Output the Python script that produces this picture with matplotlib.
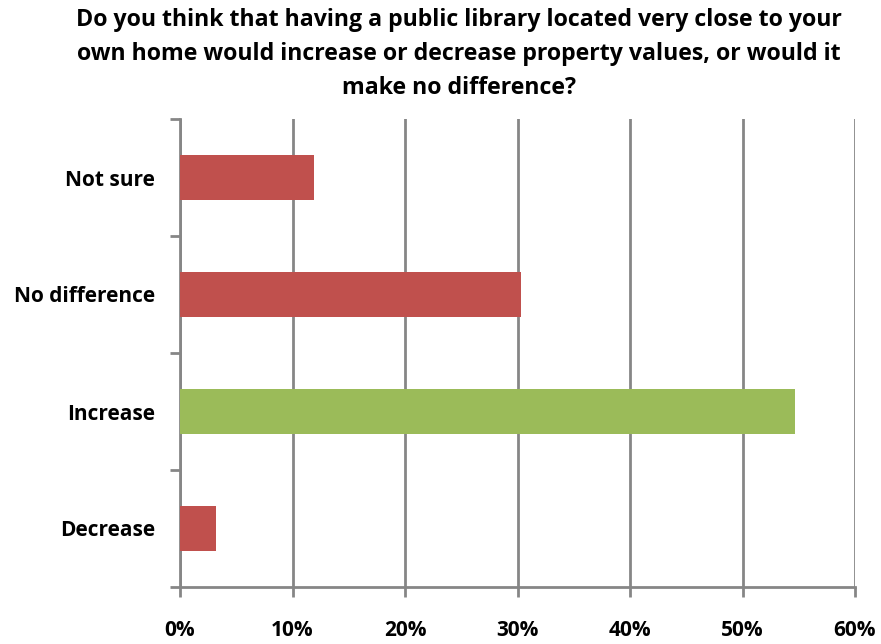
import matplotlib
matplotlib.use("Agg")
import matplotlib.pyplot as plt
from matplotlib.ticker import FuncFormatter, MultipleLocator

categories = ["Decrease", "Increase", "No difference", "Not sure"]
values = [3.2, 54.7, 30.3, 11.9]
bar_colors = ["#C0504D", "#9BBB59", "#C0504D", "#C0504D"]
x_ticks = [0, 10, 20, 30, 40, 50, 60]
title = ("Do you think that having a public library located very close to your\n"
         "own home would increase or decrease property values, or would it\n"
         "make no difference?")

plt.rcParams["font.family"] = ["Open Sans", "DejaVu Sans"]
plt.rcParams["font.weight"] = "bold"

fig = plt.figure(figsize=(8.81, 6.44), dpi=100)
ax = fig.add_axes([180 / 881, 1 - 587 / 644, 675 / 881, 468 / 644])

ypos = range(len(categories))
ax.barh(ypos, values, height=0.39, color=bar_colors, zorder=3)

ax.set_xlim(0, 60)
ax.set_ylim(-0.5, len(categories) - 0.5)
ax.set_xticks(x_ticks)
ax.xaxis.set_major_formatter(FuncFormatter(lambda v, p: f"{int(v)}%"))
ax.set_yticks(list(ypos))
ax.set_yticklabels(categories)
ax.yaxis.set_minor_locator(MultipleLocator(1, offset=0.5))
ax.tick_params(axis="y", which="major", length=0, pad=18, labelsize=15)
ax.tick_params(axis="y", which="minor", length=7, width=2, color="#868686")
ax.tick_params(axis="x", length=7, width=2, color="#868686", pad=17, labelsize=15)
for lab in ax.get_xticklabels() + ax.get_yticklabels():
    lab.set_fontweight("bold")

ax.grid(axis="x", color="#868686", linewidth=2, zorder=0)
for side in ("top", "right"):
    ax.spines[side].set_visible(False)
for side in ("left", "bottom"):
    ax.spines[side].set_color("#868686")
    ax.spines[side].set_linewidth(2)

fig.text(0.521, 0.988, title, ha="center", va="top", fontsize=16.7,
         fontweight="bold", linespacing=1.55)

fig.savefig("out.png", dpi=100)
